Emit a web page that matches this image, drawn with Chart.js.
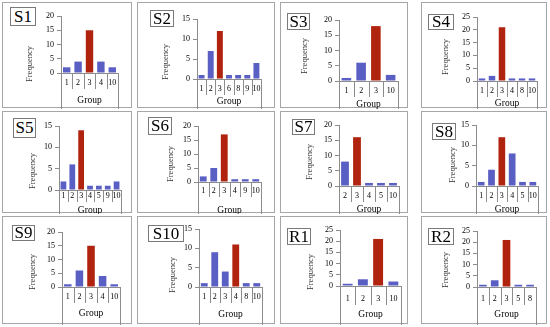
<!DOCTYPE html>
<html>
<head>
<meta charset="utf-8">
<script src="https://cdn.jsdelivr.net/npm/chart.js@4.4.1/dist/chart.umd.min.js"></script>
<style>
  body { margin: 0; background: #fff; }
  #wrap { position: relative; width: 550px; height: 327px; overflow: hidden; }
  .panel { position: absolute; box-sizing: border-box; border: 1px solid #a6a6a6; }
  .panel canvas { position: absolute; left: 0; top: 0; }
  .tag { position: absolute; box-sizing: border-box; border: 1px solid #7a7a7a; background: #fff;
         font-family: "Liberation Serif", serif; font-size: 17px; text-align: center; color: #000; }
  .ytitle { position: absolute; white-space: nowrap; font-family: "Liberation Serif", serif; font-size: 8.5px;
            color: #333; transform: translate(-50%, -50%) rotate(-90deg); }
</style>
</head>
<body>
<div id="wrap"></div>
<script>
// data
const panelNames = ['S1', 'S2', 'S3', 'S4', 'S5', 'S6', 'S7', 'S8', 'S9', 'S10', 'R1', 'R2'];
const groupLabels = [
  ['1', '2', '3', '4', '10'],
  ['1', '2', '3', '6', '8', '9', '10'],
  ['1', '2', '3', '10'],
  ['1', '2', '3', '4', '8', '10'],
  ['1', '2', '3', '4', '5', '9', '10'],
  ['1', '2', '3', '4', '9', '10'],
  ['2', '3', '4', '5', '10'],
  ['1', '2', '3', '4', '5', '10'],
  ['1', '2', '3', '4', '10'],
  ['1', '2', '3', '4', '8', '10'],
  ['1', '2', '3', '10'],
  ['1', '2', '3', '5', '8']
];
const frequencies = [
  [2, 4, 15, 4, 2],
  [1, 7, 12, 1, 1, 1, 4],
  [1, 6, 18, 2],
  [1, 2, 21, 1, 1, 1],
  [2, 6, 14, 1, 1, 1, 2],
  [2, 5, 17, 1, 1, 1],
  [8, 16, 1, 1, 1],
  [1, 4, 12, 8, 1, 1],
  [1, 6, 15, 4, 1],
  [1, 9, 4, 11, 1, 1],
  [1, 3, 21, 2],
  [1, 3, 21, 1, 1]
];
const highlightGroup = ['3', '3', '3', '3', '3', '3', '3', '3', '3', '4', '3', '3'];
const yMax = [20, 15, 20, 25, 15, 20, 20, 15, 20, 15, 25, 25];

// layout (page pixels): panel box, y axis x, plot right, y of 0, y of max,
// label y, "Group" y, tag box, "Frequency" centre
const layout = [
  { box: [2, 2, 130, 106],   axisX: 60,  right: 117, y0: 72,  yTop: 15,  labY: 82,  grpY: 99,  tag: [10, 7, 26, 19],   freq: [29, 64] },
  { box: [137, 2, 138, 106], axisX: 196, right: 260, y0: 78,  yTop: 18,  labY: 88,  grpY: 100, tag: [150, 10, 24, 17],  freq: [165, 62] },
  { box: [280, 2, 128, 106], axisX: 338, right: 397, y0: 80,  yTop: 19,  labY: 90,  grpY: 103, tag: [287, 13, 23, 17],  freq: [304, 56] },
  { box: [421, 2, 126, 106], axisX: 476, right: 536, y0: 80,  yTop: 16,  labY: 90,  grpY: 102, tag: [428, 14, 26, 16],  freq: [445, 57] },
  { box: [2, 111, 130, 102], axisX: 58,  right: 120, y0: 189, yTop: 125, labY: 195, grpY: 209, tag: [13, 118, 23, 20],  freq: [32, 171] },
  { box: [137, 111, 138, 102], axisX: 197, right: 260, y0: 181, yTop: 125, labY: 190, grpY: 209, tag: [148, 117, 24, 18], freq: [170, 164] },
  { box: [280, 111, 128, 102], axisX: 338, right: 398, y0: 185, yTop: 124, labY: 195, grpY: 208, tag: [292, 119, 23, 16], freq: [309, 162] },
  { box: [421, 111, 126, 102], axisX: 475, right: 537, y0: 185, yTop: 124, labY: 195, grpY: 208, tag: [432, 123, 24, 17], freq: [452, 165] },
  { box: [2, 216, 130, 108], axisX: 61,  right: 119, y0: 286, yTop: 231, labY: 296, grpY: 312, tag: [12, 225, 23, 16],  freq: [32, 272] },
  { box: [137, 216, 138, 108], axisX: 198, right: 261, y0: 286, yTop: 228, labY: 296, grpY: 313, tag: [148, 225, 36, 17], freq: [172, 275] },
  { box: [280, 216, 128, 108], axisX: 339, right: 400, y0: 285, yTop: 229, labY: 298, grpY: 313, tag: [287, 228, 24, 17], freq: [310, 272] },
  { box: [421, 216, 126, 108], axisX: 476, right: 535, y0: 286, yTop: 230, labY: 298, grpY: 313, tag: [428, 228, 26, 17], freq: [445, 270] }
];

const BLUE = '#5a5fc4';
const RED = '#b0230e';
const AXIS = '#8c8c8c';
const SERIF = '"Liberation Serif", serif';

// vertical separators between group labels, outer ones run to the bottom
const separators = {
  id: 'separators',
  afterDraw(chart, args, opts) {
    const x = chart.scales.x;
    const ctx = chart.ctx;
    const n = x.ticks.length;
    const step = (x.right - x.left) / n;
    ctx.save();
    ctx.strokeStyle = AXIS;
    ctx.lineWidth = 1;
    for (let i = 0; i <= n; i++) {
      const px = Math.round(x.left + i * step) + 0.5;
      const end = (i === 0 || i === n) ? chart.height : opts.innerEnd;
      ctx.beginPath();
      ctx.moveTo(px, x.top);
      ctx.lineTo(px, end);
      ctx.stroke();
    }
    ctx.restore();
  }
};

const wrap = document.getElementById('wrap');

panelNames.forEach((name, k) => {
  const L = layout[k];
  const [px, py, pw, ph] = L.box;

  const panel = document.createElement('div');
  panel.className = 'panel';
  panel.style.cssText = `left:${px}px;top:${py}px;width:${pw}px;height:${ph}px;`;
  const canvas = document.createElement('canvas');
  canvas.width = pw;
  canvas.height = ph;
  panel.appendChild(canvas);
  wrap.appendChild(panel);

  const tag = document.createElement('div');
  tag.className = 'tag';
  const [tx, ty, tw, th] = L.tag;
  tag.style.cssText = `left:${tx}px;top:${ty}px;width:${tw}px;height:${th}px;line-height:${th - 2}px;`;
  tag.textContent = name;
  wrap.appendChild(tag);

  const yt = document.createElement('div');
  yt.className = 'ytitle';
  yt.style.left = L.freq[0] + 'px';
  yt.style.top = L.freq[1] + 'px';
  yt.textContent = 'Frequency';
  wrap.appendChild(yt);

  const yW = 37;
  const xH = L.grpY + 6 - L.y0;
  const labels = groupLabels[k];

  new Chart(canvas.getContext('2d'), {
    type: 'bar',
    data: {
      labels: labels,
      datasets: [{
        data: frequencies[k],
        backgroundColor: labels.map(g => g === highlightGroup[k] ? RED : BLUE),
        barPercentage: 0.65,
        categoryPercentage: 1
      }]
    },
    plugins: [separators],
    options: {
      responsive: false,
      animation: false,
      devicePixelRatio: 1,
      layout: {
        padding: {
          left: L.axisX - yW - px,
          right: px + pw - L.right,
          top: L.yTop - py,
          bottom: py + ph - (L.grpY + 6)
        }
      },
      plugins: {
        legend: { display: false },
        tooltip: { enabled: false },
        separators: { innerEnd: L.labY + 6 - py }
      },
      scales: {
        x: {
          grid: { display: false, drawTicks: false },
          border: { display: true, color: AXIS },
          ticks: { padding: L.labY - L.y0 - 4.8, color: '#000', font: { family: SERIF, size: 8 }, maxRotation: 0, autoSkip: false },
          title: { display: true, text: 'Group', padding: 0, color: '#000', font: { family: SERIF, size: 9.5 } },
          afterFit: s => { s.height = xH; }
        },
        y: {
          min: 0,
          max: yMax[k],
          grid: { drawOnChartArea: false, drawTicks: true, tickLength: 4, color: AXIS },
          border: { display: true, color: AXIS },
          ticks: { stepSize: 5, padding: 3, autoSkip: false, color: '#000', font: { family: SERIF, size: 8 } },
          afterFit: s => { s.width = yW; }
        }
      }
    }
  });
});
</script>
</body>
</html>
